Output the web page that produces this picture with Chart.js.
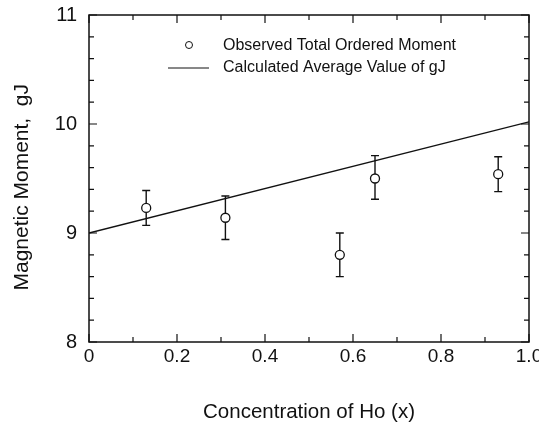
<!DOCTYPE html>
<html lang="en">
<head>
    <meta charset="UTF-8">
    <title>Magnetic Moment vs Ho concentration</title>
    <style>
        body { margin: 0; background: #fff; }
        .chart-container { width: 539px; height: 431px; position: relative; }
    </style>
</head>
<body>
<div class="chart-container">
    <canvas id="moment"></canvas>
</div>

<script src="https://cdn.jsdelivr.net/npm/chart.js@4.4.1/dist/chart.umd.min.js"></script>
<script>
    // observed total ordered moment
    const concentration = [0.13, 0.31, 0.57, 0.65, 0.93];
    const observedMoment = [9.23, 9.14, 8.80, 9.50, 9.54];
    const errorLow = [9.07, 8.94, 8.60, 9.31, 9.38];
    const errorHigh = [9.39, 9.34, 9.00, 9.71, 9.70];

    // calculated average value of gJ
    const calcX = [0, 1.0];
    const calcY = [9.0, 10.02];

    const xTickLabels = ['0', '0.2', '0.4', '0.6', '0.8', '1.0'];
    const yTickLabels = ['8', '9', '10', '11'];

    const FONT = '"Liberation Sans", Arial, sans-serif';

    function toPoints(xs, ys) {
        return xs.map((x, i) => ({x: x, y: ys[i]}));
    }

    const errorBars = {
        id: 'errorBars',
        afterDatasetsDraw(chart) {
            const ctx = chart.ctx;
            const x = chart.scales.x, y = chart.scales.y;
            ctx.save();
            ctx.strokeStyle = '#111';
            ctx.lineWidth = 1.4;
            for (let i = 0; i < concentration.length; i++) {
                const px = x.getPixelForValue(concentration[i]);
                const pc = y.getPixelForValue(observedMoment[i]);
                const lo = y.getPixelForValue(errorLow[i]);
                const hi = y.getPixelForValue(errorHigh[i]);
                ctx.beginPath();
                ctx.moveTo(px, hi); ctx.lineTo(px, pc - 4.5);
                ctx.moveTo(px, pc + 4.5); ctx.lineTo(px, lo);
                ctx.moveTo(px - 4, hi); ctx.lineTo(px + 4, hi);
                ctx.moveTo(px - 4, lo); ctx.lineTo(px + 4, lo);
                ctx.stroke();
            }
            ctx.restore();
        }
    };

    // frame with inward ticks on all four sides, plus the legend
    const frame = {
        id: 'frame',
        afterDraw(chart) {
            const ctx = chart.ctx;
            const a = chart.chartArea;
            const x = chart.scales.x, y = chart.scales.y;
            ctx.save();
            ctx.strokeStyle = '#111';
            ctx.lineWidth = 1.5;
            ctx.strokeRect(a.left, a.top, a.right - a.left, a.bottom - a.top);

            ctx.lineWidth = 1.2;
            ctx.beginPath();
            for (let i = 0; i <= 10; i++) {
                const px = x.getPixelForValue(i / 10);
                const len = i % 2 === 0 ? 8 : 5;
                ctx.moveTo(px, a.bottom); ctx.lineTo(px, a.bottom - len);
                ctx.moveTo(px, a.top); ctx.lineTo(px, a.top + len);
            }
            for (let i = 0; i <= 15; i++) {
                const py = y.getPixelForValue(8 + i * 0.2);
                const len = i % 5 === 0 ? 8 : 5;
                ctx.moveTo(a.left, py); ctx.lineTo(a.left + len, py);
                ctx.moveTo(a.right, py); ctx.lineTo(a.right - len, py);
            }
            ctx.stroke();

            // legend
            const sets = chart.data.datasets;
            ctx.font = '16px ' + FONT;
            ctx.fillStyle = '#111';
            ctx.textBaseline = 'middle';
            ctx.beginPath();
            ctx.lineWidth = 1;
            ctx.arc(189, 45, 3.5, 0, Math.PI * 2);
            ctx.stroke();
            ctx.fillText(sets[0].label, 223, 46);
            ctx.beginPath();
            ctx.moveTo(168, 68); ctx.lineTo(209, 68);
            ctx.stroke();
            ctx.fillText(sets[1].label, 223, 68);
            ctx.restore();
        }
    };

    const chart = new Chart(document.getElementById('moment').getContext('2d'), {
        type: 'scatter',
        data: {
            datasets: [{
                label: 'Observed Total Ordered Moment',
                data: toPoints(concentration, observedMoment),
                pointStyle: 'circle',
                pointRadius: 4.5,
                pointBorderWidth: 1.3,
                borderColor: '#111',
                backgroundColor: 'rgba(255,255,255,0)'
            }, {
                label: 'Calculated Average Value of gJ',
                data: toPoints(calcX, calcY),
                showLine: true,
                pointRadius: 0,
                borderColor: '#111',
                borderWidth: 1.4
            }]
        },
        options: {
            responsive: true,
            maintainAspectRatio: false,
            animation: false,
            layout: { padding: { top: 15, right: 10, left: 0, bottom: 0 } },
            plugins: {
                legend: { display: false },
                tooltip: { enabled: false }
            },
            scales: {
                x: {
                    type: 'linear',
                    min: 0,
                    max: 1,
                    grid: { display: false, drawTicks: false },
                    border: { display: false },
                    afterFit: s => { s.height = 89; s.paddingLeft = 0; s.paddingRight = 0; },
                    ticks: {
                        stepSize: 0.2,
                        maxRotation: 0,
                        padding: 3,
                        color: '#111',
                        font: { family: FONT, size: 19 },
                        callback: (v) => xTickLabels[Math.round(v * 5)]
                    },
                    title: {
                        display: true,
                        text: 'Concentration of Ho (x)',
                        color: '#111',
                        font: { family: FONT, size: 20.5 },
                        padding: { top: 0, bottom: 6 }
                    }
                },
                y: {
                    min: 8,
                    max: 11,
                    grid: { display: false, drawTicks: false },
                    border: { display: false },
                    afterFit: s => { s.width = 89; s.paddingTop = 0; s.paddingBottom = 0; },
                    ticks: {
                        stepSize: 1,
                        padding: 12,
                        color: '#111',
                        font: { family: FONT, size: 20 },
                        callback: (v) => yTickLabels[Math.round(v - 8)]
                    },
                    title: {
                        display: true,
                        // trailing spaces push the centred title down a little, as in the original
                        text: 'Magnetic Moment,  gJ   ',
                        color: '#111',
                        font: { family: FONT, size: 21 },
                        padding: { top: 10, bottom: 0 }
                    }
                }
            }
        },
        plugins: [errorBars, frame]
    });
</script>
</body>
</html>
